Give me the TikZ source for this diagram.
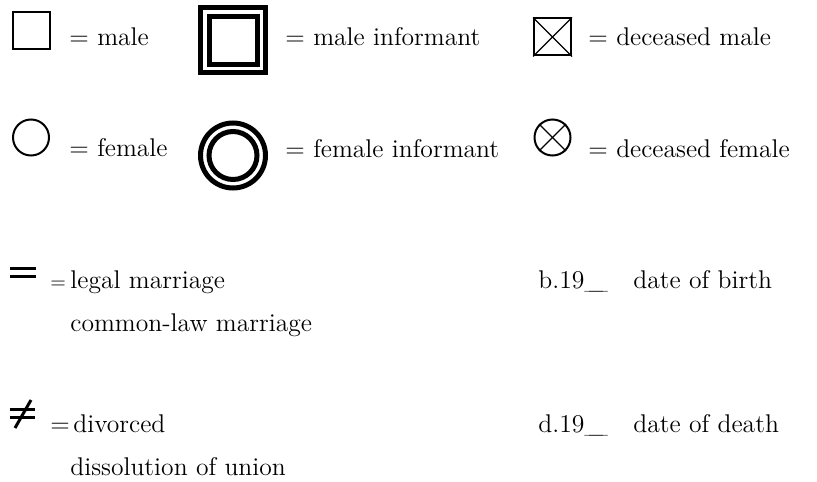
\documentclass[tikz,border=0pt]{standalone}
\usepackage{tikz}

\tikzset{
  sym/.style={draw, line width=1pt, inner sep=0pt},
  inf/.style={draw, line width=2.5pt, inner sep=0pt},
  lbl/.style={anchor=base west, inner sep=0pt, font=\fontsize{12.8}{15}\selectfont},
  bar/.style={line width=1.5pt}
}

\begin{document}
\begin{tikzpicture}[x=0.5pt, y=-0.5pt]
  \useasboundingbox (0,0) rectangle (817,481);
  \node(male)[sym, rectangle, minimum size=18.5pt] at (31.5,31) {};
  \node(malelbl)[lbl] at (69,46) {= male};
  \node(minfo)[inf, rectangle, minimum size=32.5pt] at (233,40.5) {};
  \node(minfi)[inf, rectangle, minimum size=24pt] at (233,40.5) {};
  \node(minflbl)[lbl] at (285,46) {= male informant};
  \node(dmale)[sym, rectangle, minimum size=18.5pt] at (552.5,37) {};
  \draw[line width=0.6pt] (dmale.north west) -- (dmale.south east);
  \draw[line width=0.6pt] (dmale.south west) -- (dmale.north east);
  \node(dmalelbl)[lbl] at (588,46) {= deceased male};
  \node(female)[sym, circle, minimum size=18pt] at (31,137.5) {};
  \node(femalelbl)[lbl] at (69,156) {= female};
  \node(finfo)[inf, circle, minimum size=32.5pt] at (233,155.5) {};
  \node(finfi)[inf, circle, minimum size=24pt] at (233,155.5) {};
  \node(finflbl)[lbl] at (285,157) {= female informant};
  \node(dfemale)[sym, circle, minimum size=18pt] at (552.5,137.5) {};
  \draw[line width=0.6pt] (dfemale.north west) -- (dfemale.south east);
  \draw[line width=0.6pt] (dfemale.south west) -- (dfemale.north east);
  \node(dfemalelbl)[lbl] at (588,157) {= deceased female};
  \draw[bar] (10,268.5) -- (36,268.5);
  \draw[bar] (10,276.5) -- (36,276.5);
  \node(legaleq)[lbl, font=\fontsize{10}{12}\selectfont] at (50,288) {=};
  \node(legal)[lbl] at (70,288) {legal marriage};
  \node(common)[lbl] at (70,331) {common-law marriage};
  \draw[bar] (10,409) -- (35,409);
  \draw[bar] (10,417) -- (35,417);
  \draw[bar] (15,428) -- (31,400);
  \node(diveq)[lbl] at (50,432) {=};
  \node(divorced)[lbl] at (73,432) {divorced};
  \node(dissol)[lbl] at (70,475) {dissolution of union};
  \node(born)[lbl] at (538,288) {b.19\_\kern-7pt\_};
  \node(bornlbl)[lbl] at (633,288) {date of birth};
  \node(died)[lbl] at (538,432) {d.19\_\kern-7pt\_};
  \node(diedlbl)[lbl] at (633,432) {date of death};
\end{tikzpicture}
\end{document}
